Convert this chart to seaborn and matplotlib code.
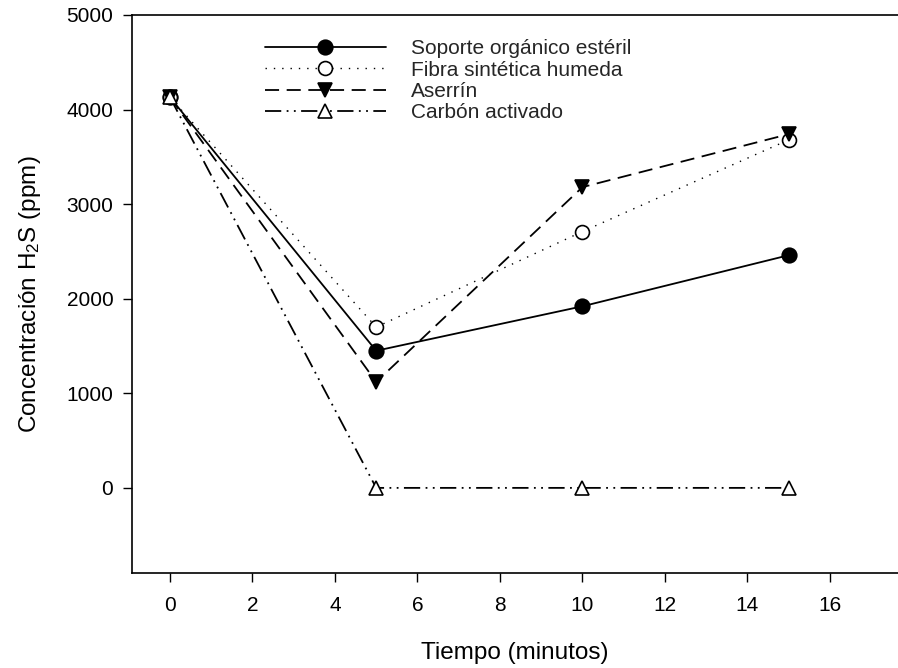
import numpy as np
import pandas as pd
import matplotlib
matplotlib.use("Agg")
import matplotlib.pyplot as plt
import seaborn as sns

sns.set_theme(style="white")
plt.rcParams["font.family"] = ["Liberation Sans", "DejaVu Sans"]
plt.rcParams["mathtext.fontset"] = "custom"
plt.rcParams["mathtext.rm"] = "Liberation Sans"
plt.rcParams["mathtext.it"] = "Liberation Sans:italic"
plt.rcParams["mathtext.bf"] = "Liberation Sans:bold"

# ---- data ----
tiempo = [0, 5, 10, 15]
soporte = [4130, 1450, 1920, 2460]
fibra = [4130, 1700, 2710, 3680]
aserrin = [4130, 1120, 3180, 3740]
carbon = [4130, 0, 0, 0]

series_names = ["Soporte orgánico estéril", "Fibra sintética humeda", "Aserrín", "Carbón activado"]
series_vals = [soporte, fibra, aserrin, carbon]

xticks = [0, 2, 4, 6, 8, 10, 12, 14, 16]
yticks = [0, 1000, 2000, 3000, 4000, 5000]

# ---- styles ----
linestyles = ["-", (0, (1, 5)), (0, (7.8, 4.2)), (0, (9, 3, 1, 3, 1, 3))]
markers = ["o", "o", "v", "^"]
facecolors = ["black", "white", "black", "white"]
msizes = [10.5, 10, 10.5, 10]
lwidths = [1.3, 1.0, 1.3, 1.3]

fig = plt.figure(figsize=(8.98, 6.68), dpi=100)
ax = fig.add_axes([132 / 898, 95 / 668, 766 / 898, 558 / 668])

for name, vals, ls, mk, fc, ms, lw in zip(series_names, series_vals, linestyles,
                                          markers, facecolors, msizes, lwidths):
    df = pd.DataFrame({"t": tiempo, "c": vals})
    sns.lineplot(data=df, x="t", y="c", ax=ax, color="black", linestyle=ls,
                 linewidth=lw, marker=mk, markersize=ms, markerfacecolor=fc,
                 markeredgecolor="black", markeredgewidth=1.2, label=name,
                 errorbar=None, legend=False)

ax.set_xlim(-0.92, 17.65)
ax.set_ylim(-900, 5000)
ax.set_xticks(xticks)
ax.set_yticks(yticks)

for s in ["top", "left", "bottom"]:
    ax.spines[s].set_visible(True)
    ax.spines[s].set_color("black")
    ax.spines[s].set_linewidth(1.2)
ax.spines["right"].set_visible(False)

ax.tick_params(axis="both", direction="out", length=6.5, width=1, colors="black",
               labelsize=15)
ax.tick_params(axis="x", pad=10, bottom=True, top=False)
ax.tick_params(axis="y", pad=7, left=True, right=False)

ax.set_xlabel("Tiempo (minutos)", fontsize=17.5, labelpad=19.5, color="black")
ax.set_ylabel("Concentración H$_2$S (ppm)", fontsize=17.5, labelpad=17, color="black")

handles, labels = ax.get_legend_handles_labels()
leg = ax.legend(handles, labels, loc="upper left", bbox_to_anchor=(265 / 898, 1 - 39 / 668),
                bbox_transform=fig.transFigure, frameon=False, fontsize=15,
                handlelength=5.8, handletextpad=1.2, labelspacing=0.12,
                borderpad=0, borderaxespad=0)

fig.savefig("out.png", dpi=100)
